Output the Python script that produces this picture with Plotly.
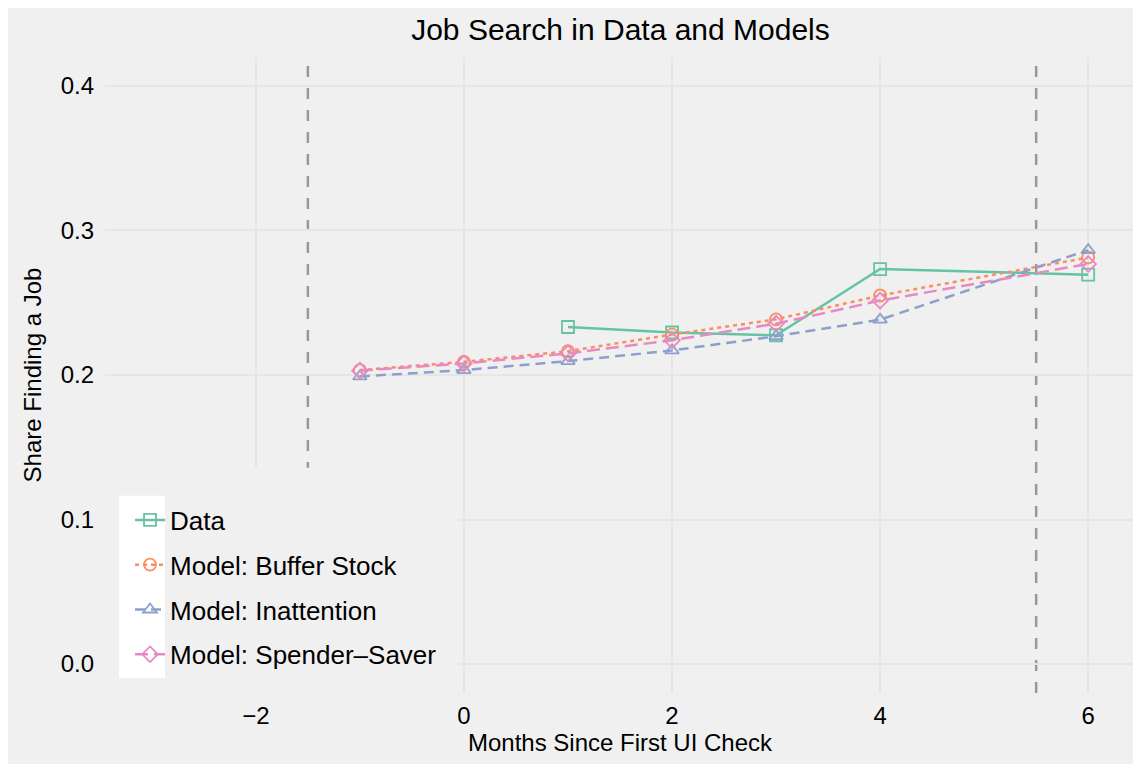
import plotly.graph_objects as go

MONTHS = [-1, 0, 1, 2, 3, 4, 6]
DATA_MONTHS = [1, 2, 3, 4, 6]
DATA = [0.2332, 0.2294, 0.2275, 0.2733, 0.2694]
BUFFER_STOCK = [0.2034, 0.2091, 0.2165, 0.2280, 0.2385, 0.2550, 0.2813]
INATTENTION = [0.1990, 0.2034, 0.2096, 0.2170, 0.2268, 0.2383, 0.2864]
SPENDER_SAVER = [0.2030, 0.2080, 0.2150, 0.2240, 0.2355, 0.2515, 0.2768]
CUTOFFS = [-1.5, 5.5]

BG = "#F0F0F0"
GRID = "#E6E6E6"
FONT = "Liberation Sans, Arial, sans-serif"

SERIES = [
    ("Data", DATA_MONTHS, DATA, "#66C2A5", "solid", "square-open"),
    ("Model: Buffer Stock", MONTHS, BUFFER_STOCK, "#FC8D62", "4px,4px", "circle-open"),
    ("Model: Inattention", MONTHS, INATTENTION, "#8DA0CB", "10px,6px", "triangle-up-open"),
    ("Model: Spender\u2013Saver", MONTHS, SPENDER_SAVER, "#E78AC3", "13px,6px", "diamond-open"),
]


def main():
    fig = go.Figure()

    for name, x, y, color, dash, symbol in SERIES:
        fig.add_trace(
            go.Scatter(
                name=name,
                x=x,
                y=y,
                mode="lines+markers",
                line=dict(color=color, width=2.5, dash=dash),
                marker=dict(symbol=symbol, size=12, color=color, line=dict(width=1.8, color=color)),
                legendgroup=name,
            )
        )

    # cutoff lines, then a grey patch behind the legend, then white key box
    for c in CUTOFFS:
        fig.add_shape(
            type="line", xref="x", yref="paper", x0=c, x1=c, y0=0, y1=1,
            line=dict(color="#999999", width=2.5, dash="11px,11px"), layer="below",
        )
    fig.add_shape(
        type="rect", xref="paper", yref="paper", x0=0, x1=0.342, y0=0, y1=0.354,
        fillcolor=BG, line_width=0, layer="above",
    )
    fig.add_shape(
        type="rect", xref="paper", yref="paper", x0=0.0136, x1=0.0583, y0=0.0236, y1=0.31,
        fillcolor="white", line_width=0, layer="above",
    )

    fig.update_xaxes(
        range=[-3.45, 6.45],
        tickvals=[-2, 0, 2, 4, 6],
        ticktext=["\u22122", "0", "2", "4", "6"],
        showgrid=True, gridcolor=GRID, gridwidth=1.5,
        zeroline=False, showline=False, ticks="",
        ticklabelstandoff=6,
        tickfont=dict(size=24, color="black"),
        title=dict(text="Months Since First UI Check", font=dict(size=24, color="black"), standoff=2),
    )
    fig.update_yaxes(
        range=[-0.02, 0.42],
        tickvals=[0.0, 0.1, 0.2, 0.3, 0.4],
        tickformat=".1f",
        showgrid=True, gridcolor=GRID, gridwidth=1.5,
        zeroline=False, showline=False, ticks="",
        ticklabelstandoff=10,
        tickfont=dict(size=24, color="black"),
        title=dict(text="Share Finding a Job", font=dict(size=24, color="black"), standoff=12),
    )
    fig.update_layout(
        width=1133,
        height=756,
        title=dict(
            text="Job Search in Data and Models", x=0.5406, xanchor="center",
            y=0.971, yanchor="middle",
            font=dict(size=30, color="black"),
        ),
        font=dict(family=FONT, color="black"),
        paper_bgcolor=BG,
        plot_bgcolor=BG,
        margin=dict(l=97, r=6, t=49, b=71),
        legend=dict(
            x=0.0243, xanchor="left", y=0.309, yanchor="top",
            bgcolor="rgba(0,0,0,0)", font=dict(size=26, color="black"),
            traceorder="grouped", tracegroupgap=8, itemwidth=30,
        ),
        showlegend=True,
    )
    fig.write_html("out.html")


if __name__ == "__main__":
    main()
